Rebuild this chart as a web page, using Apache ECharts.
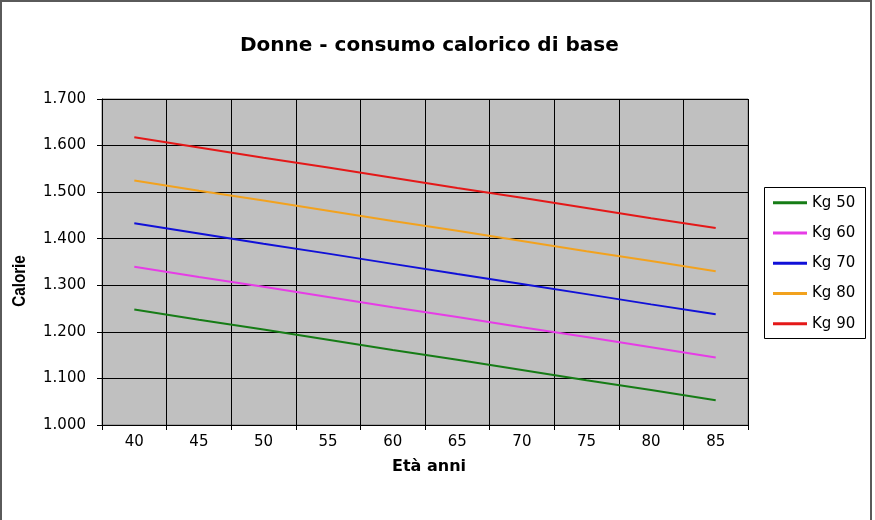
<!DOCTYPE html>
<html>
<head>
<meta charset="utf-8">
<script src="https://cdn.jsdelivr.net/npm/echarts@6/dist/echarts.min.js"></script>
<style>
  html, body { margin: 0; padding: 0; background: #fff; }
  #chart { width: 875px; height: 520px; }
</style>
</head>
<body>
<div id="chart"></div>
<script>
// Età (anni) sull'asse orizzontale
const ages = ['40', '45', '50', '55', '60', '65', '70', '75', '80', '85'];

// Consumo calorico di base per peso corporeo
const kg50 = [1248, 1226, 1205, 1183, 1161, 1140, 1118, 1096, 1075, 1053];
const kg60 = [1340, 1318, 1297, 1275, 1253, 1232, 1210, 1189, 1167, 1145];
const kg70 = [1433, 1411, 1389, 1368, 1346, 1324, 1303, 1281, 1259, 1238];
const kg80 = [1525, 1503, 1482, 1460, 1438, 1417, 1395, 1373, 1352, 1330];
const kg90 = [1618, 1596, 1574, 1553, 1531, 1509, 1488, 1466, 1444, 1423];

const seriesNames = ['Kg 50', 'Kg 60', 'Kg 70', 'Kg 80', 'Kg 90'];
const seriesData = [kg50, kg60, kg70, kg80, kg90];
const seriesColors = ['#167c16', '#e63ce6', '#1010d8', '#f2a21e', '#e41818'];

const FONT = '"DejaVu Sans", Arial, sans-serif';
const FONT_NARROW = '"Liberation Sans", Arial, sans-serif';

function thousands(v) {
  return String(v).replace(/\B(?=(\d{3})+(?!\d))/g, '.');
}

const chart = echarts.init(document.getElementById('chart'), null, { renderer: 'canvas' });

chart.setOption({
  animation: false,
  backgroundColor: '#ffffff',
  textStyle: { fontFamily: FONT },
  title: {
    text: 'Donne - consumo calorico di base',
    left: 235,
    top: 31,
    padding: 5,
    textStyle: { fontFamily: FONT, fontSize: 20, fontWeight: 'bold', color: '#000' }
  },
  legend: {
    orient: 'vertical',
    left: 773,
    top: 188,
    padding: 0,
    itemGap: 1,
    itemWidth: 34,
    itemHeight: 3,
    icon: 'rect',
    data: seriesNames,
    textStyle: { fontFamily: FONT, fontSize: 15, color: '#000', lineHeight: 29.3 }
  },
  grid: {
    left: 102,
    right: 127,
    top: 99,
    bottom: 95,
    show: true,
    backgroundColor: '#c0c0c0',
    borderColor: '#808080',
    borderWidth: 1
  },
  xAxis: {
    type: 'category',
    data: ages,
    boundaryGap: true,
    axisLine: { lineStyle: { color: '#000', width: 1 } },
    axisTick: { show: true, interval: 0, length: 5, lineStyle: { color: '#000' } },
    axisLabel: { interval: 0, margin: 10, fontFamily: FONT, fontSize: 15, color: '#000' },
    splitLine: { show: true, interval: 0, lineStyle: { color: '#000', width: 1 } }
  },
  yAxis: {
    type: 'value',
    min: 1000,
    max: 1700,
    interval: 100,
    axisLine: { show: true, lineStyle: { color: '#000', width: 1 } },
    axisTick: { show: true, length: 5, lineStyle: { color: '#000' } },
    axisLabel: { margin: 16, fontFamily: FONT, fontSize: 15, color: '#000', formatter: thousands },
    splitLine: { show: true, lineStyle: { color: '#000', width: 1 } }
  },
  graphic: [
    {
      type: 'rect',
      shape: { x: 1, y: 1, width: 870, height: 540 },
      style: { fill: 'none', stroke: '#5a5a5a', lineWidth: 2 },
      silent: true
    },
    {
      type: 'rect',
      shape: { x: 764.5, y: 187.5, width: 101, height: 151 },
      style: { fill: 'none', stroke: '#000', lineWidth: 1 },
      silent: true
    },
    {
      // vertical axis title, slightly condensed along its length
      type: 'text',
      x: 20,
      y: 281,
      rotation: Math.PI / 2,
      scaleX: 0.8,
      style: {
        text: 'Calorie',
        fontFamily: FONT_NARROW,
        fontSize: 19,
        fontWeight: 'bold',
        fill: '#000',
        align: 'center',
        verticalAlign: 'middle'
      },
      silent: true
    },
    {
      type: 'text',
      x: 429,
      y: 467,
      style: {
        text: 'Età anni',
        fontFamily: FONT,
        fontSize: 16,
        fontWeight: 'bold',
        fill: '#000',
        align: 'center',
        verticalAlign: 'middle'
      },
      silent: true
    }
  ],
  series: seriesNames.map((name, i) => ({
    name: name,
    type: 'line',
    data: seriesData[i],
    color: seriesColors[i],
    showSymbol: false,
    symbol: 'none',
    lineStyle: { width: 2, color: seriesColors[i] }
  }))
});
</script>
</body>
</html>
